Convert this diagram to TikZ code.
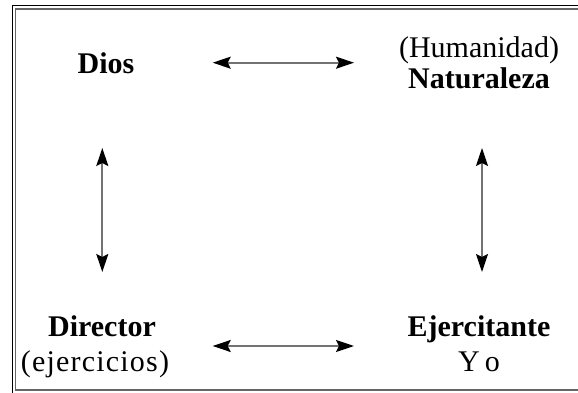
\documentclass[tikz,border=0pt]{standalone}
\usepackage{fontspec}
\setmainfont{Liberation Serif}
\newfontface\spaced[LetterSpace=4]{Liberation Serif}
\usetikzlibrary{arrows.meta}
\begin{document}
\begin{tikzpicture}[x=1pt,y=-1pt,
  lbl/.style={inner sep=0pt, align=center, font=\fontsize{30}{31}\selectfont},
  link/.style={{Stealth[black, length=18pt, width=12pt, inset=3pt]}-{Stealth[black, length=18pt, width=12pt, inset=3pt]}, draw=black!55, line width=1.8pt}]
  \useasboundingbox (0,0) rectangle (578,393);
  % frame: outer black edge and inner grey edge
  \draw[black, line width=1.3pt] (12.3,393) -- (12.3,5.3) -- (578,5.3);
  \draw[black!60, line width=1.3pt] (578,9) -- (15.7,9) -- (15.7,390) -- (578,390);
  % corner labels (anchor base = baseline of the last line)
  \node[lbl, anchor=base] (dios) at (106,74) {\textbf{Dios}};
  \node[lbl, anchor=base] (nat) at (479,89) {(Humanidad)\\\textbf{Naturaleza}};
  \node[lbl, anchor=base] (dir) at (102,371) {\textbf{Director}\\[4pt]{\spaced(ejercicios)}\hspace*{14pt}};
  \node[lbl, anchor=base] (ejer) at (479,371) {\textbf{Ejercitante}\\[4pt]{\spaced Y\,o}};
  % relations
  \coordinate (tl) at (212.7,62.7);
  \coordinate (tr) at (354,62.7);
  \coordinate (bl) at (212.7,346);
  \coordinate (br) at (354,346);
  \coordinate (lt) at (102.3,148);
  \coordinate (lb) at (102.3,272);
  \coordinate (rt) at (482,148);
  \coordinate (rb) at (482,272);
  \draw[link] (tl) -- (tr);
  \draw[link] (bl) -- (br);
  \draw[link] (lt) -- (lb);
  \draw[link] (rt) -- (rb);
\end{tikzpicture}
\end{document}
